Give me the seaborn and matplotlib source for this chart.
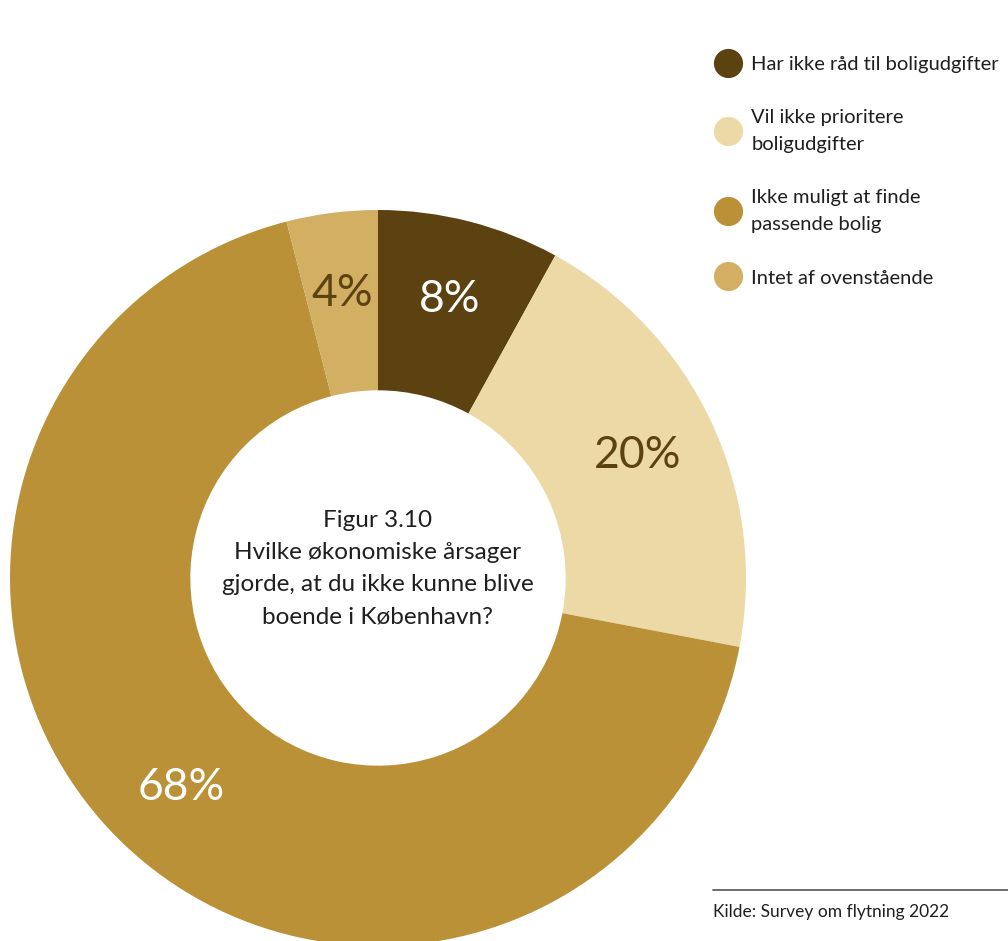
import matplotlib
matplotlib.use("Agg")
import matplotlib.pyplot as plt
from matplotlib.lines import Line2D
import seaborn as sns

# data
categories = [
    "Har ikke råd til boligudgifter",
    "Vil ikke prioritere\nboligudgifter",
    "Ikke muligt at finde\npassende bolig",
    "Intet af ovenstående",
]
shares = [8, 20, 68, 4]
colors = ["#5B4210", "#ECD9A5", "#BA9136", "#D2AF62"]
label_colors = ["white", "#5B4210", "white", "#5B4210"]
center_title = "Figur 3.10\nHvilke økonomiske årsager\ngjorde, at du ikke kunne blive\nboende i København?"
source = "Kilde: Survey om flytning 2022"

sns.set_theme(style="white")
plt.rcParams["font.family"] = ["Lato", "DejaVu Sans"]

W, H = 1008, 941
fig = plt.figure(figsize=(W / 100, H / 100), dpi=100)

# donut axes (square, pixel-placed)
side = 736
ax = fig.add_axes([10 / W, -5 / H, side / W, side / H])
wedges, texts = ax.pie(
    shares,
    labels=[f"{s}%" for s in shares],
    colors=colors,
    startangle=90,
    counterclock=False,
    radius=1.0,
    labeldistance=0.78,
    wedgeprops=dict(width=0.49, linewidth=0),
)
for t, c in zip(texts, label_colors):
    t.set_color(c)
    t.set_fontsize(32)
    t.set_fontweight("normal")
    t.set_ha("center")
    t.set_va("center")
ax.set_xlim(-1, 1)
ax.set_ylim(-1, 1)
ax.set_aspect("equal")
ax.axis("off")

ax.text(0, 0.025, center_title, ha="center", va="center", fontsize=17.5,
        color="#1f1f1f", linespacing=1.65)

# legend
handles = [
    Line2D([0], [0], marker="o", linestyle="none", markersize=21,
           markerfacecolor=c, markeredgewidth=0)
    for c in colors
]
leg = fig.legend(
    handles, categories,
    loc="upper left", bbox_to_anchor=(713 / W, 1 - 56 / H),
    frameon=False, fontsize=14.5, borderpad=0, borderaxespad=0,
    handlelength=1.45, handletextpad=0.45, labelspacing=1.8,
)
for t in leg.get_texts():
    t.set_color("#1f1f1f")
    t.set_linespacing(1.7)

# source line
fig.add_artist(Line2D([713 / W, 1.0], [1 - 890 / H, 1 - 890 / H],
                      color="#555555", linewidth=1.2))
fig.text(713 / W, 1 - 912 / H, source, ha="left", va="center",
         fontsize=12.5, color="#1f1f1f")

fig.savefig("out.png", dpi=100)
